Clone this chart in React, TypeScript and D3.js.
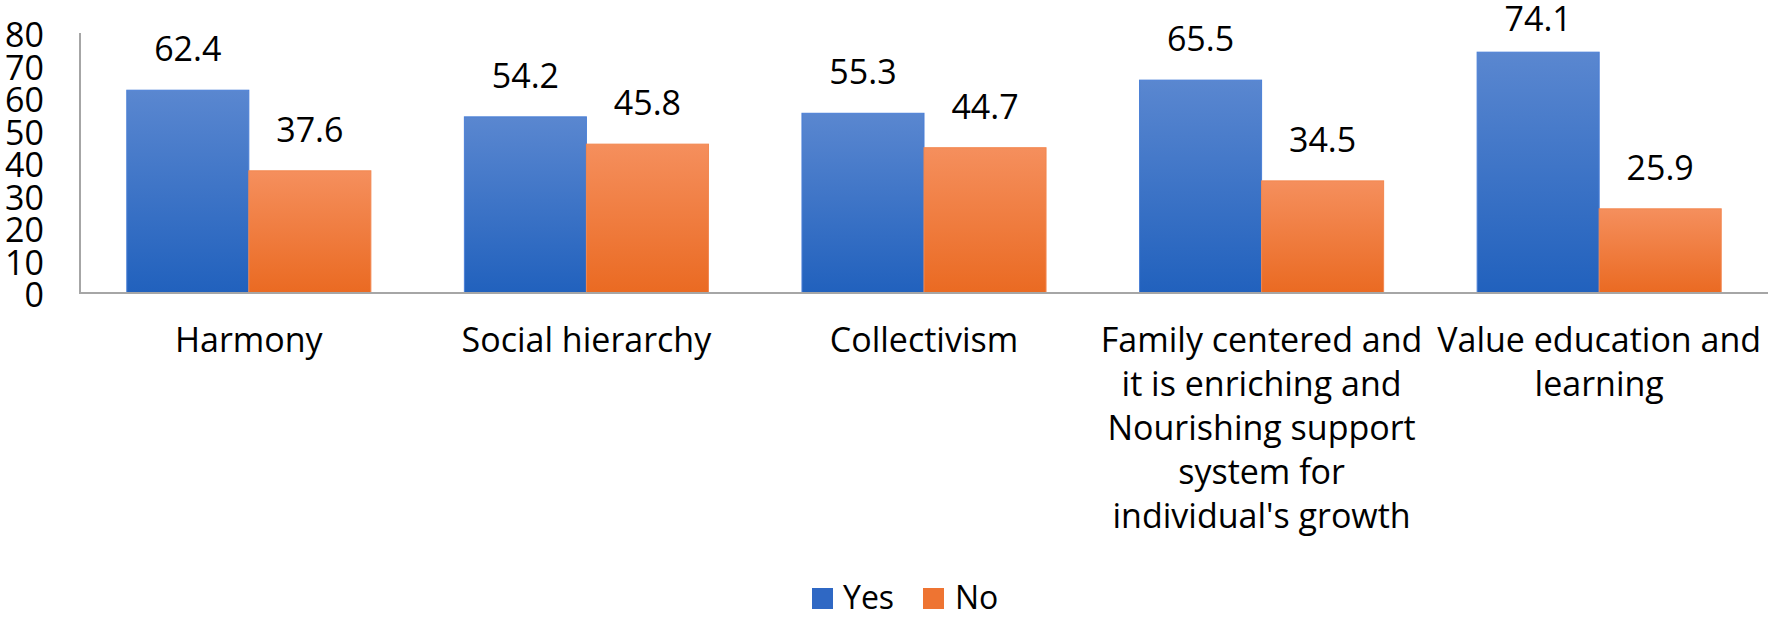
import React, { useEffect } from 'react';
import * as d3 from 'd3';

// chart data
const categories = ['Harmony', 'Social hierarchy', 'Collectivism', 'Family centered', 'Value education'];
const categoryLines = [
  ['Harmony'],
  ['Social hierarchy'],
  ['Collectivism'],
  ['Family centered and', 'it is enriching and', 'Nourishing support', 'system for', "individual's growth"],
  ['Value education and', 'learning'],
];
const yesValues = [62.4, 54.2, 55.3, 65.5, 74.1];
const noValues = [37.6, 45.8, 44.7, 34.5, 25.9];
const seriesNames = ['Yes', 'No'];
const yTicks = [0, 10, 20, 30, 40, 50, 60, 70, 80];

const W = 1772;
const H = 618;
const FONT = '"Open Sans", "Noto Sans", sans-serif';

export default function App() {
  useEffect(() => {
    document.body.style.margin = '0';
  }, []);

  const x = d3.scaleBand<string>()
    .domain(categories)
    .range([80, 1768])
    .paddingInner(0.277)
    .paddingOuter(0.1386);
  const sub = d3.scaleBand<string>()
    .domain(seriesNames)
    .range([0, x.bandwidth()]);
  const y = d3.scaleLinear().domain([0, 80]).range([293, 33]);

  const series = [
    { name: 'Yes', values: yesValues, fill: 'url(#gradYes)', stroke: '#4a7fd6', swatch: '#2f68c4' },
    { name: 'No', values: noValues, fill: 'url(#gradNo)', stroke: '#f2874f', swatch: '#ee7432' },
  ];

  return (
    <svg width={W} height={H} style={{ display: 'block', background: '#fff' }} fontFamily={FONT}>
      <defs>
        <linearGradient id="gradYes" x1="0" y1="0" x2="0" y2="1">
          <stop offset="0%" stopColor="#5a87d0" />
          <stop offset="100%" stopColor="#2161bd" />
        </linearGradient>
        <linearGradient id="gradNo" x1="0" y1="0" x2="0" y2="1">
          <stop offset="0%" stopColor="#f58f5d" />
          <stop offset="100%" stopColor="#ea6a22" />
        </linearGradient>
      </defs>

      {/* y tick labels */}
      {yTicks.map(t => (
        <text key={t} x={44} y={y(t) + 14} textAnchor="end" fontSize={34} fill="#000">
          {t}
        </text>
      ))}

      {/* bars */}
      {series.map(s => (
        <g key={s.name}>
          {categories.map((c, i) => {
            const bx = (x(c) ?? 0) + (sub(s.name) ?? 0);
            const bw = sub.bandwidth();
            const top = y(s.values[i]);
            return (
              <g key={c}>
                <rect x={bx} y={top} width={bw} height={y(0) - top} fill={s.fill} stroke={s.stroke} strokeWidth={1} />
                <text x={bx + bw / 2} y={Math.max(top - 29, 31)} textAnchor="middle" fontSize={34} fill="#000">
                  {s.values[i]}
                </text>
              </g>
            );
          })}
        </g>
      ))}

      {/* axes */}
      <line x1={80} x2={80} y1={y(80)} y2={y(0)} stroke="#a6a6a6" strokeWidth={2} />
      <line x1={79} x2={1768} y1={y(0)} y2={y(0)} stroke="#a6a6a6" strokeWidth={2} />

      {/* category labels */}
      {categories.map((c, i) => (
        <text key={c} textAnchor="middle" fontSize={34} fill="#000">
          {categoryLines[i].map((line, j) => (
            <tspan key={j} x={(x(c) ?? 0) + x.bandwidth() / 2} y={352 + j * 44}>
              {line}
            </tspan>
          ))}
        </text>
      ))}

      {/* legend */}
      <g>
        <rect x={812} y={588} width={21} height={21} fill={series[0].swatch} />
        <text x={843} y={609} fontSize={32} fill="#000">Yes</text>
        <rect x={923} y={588} width={21} height={21} fill={series[1].swatch} />
        <text x={955} y={609} fontSize={32} fill="#000">No</text>
      </g>
    </svg>
  );
}
